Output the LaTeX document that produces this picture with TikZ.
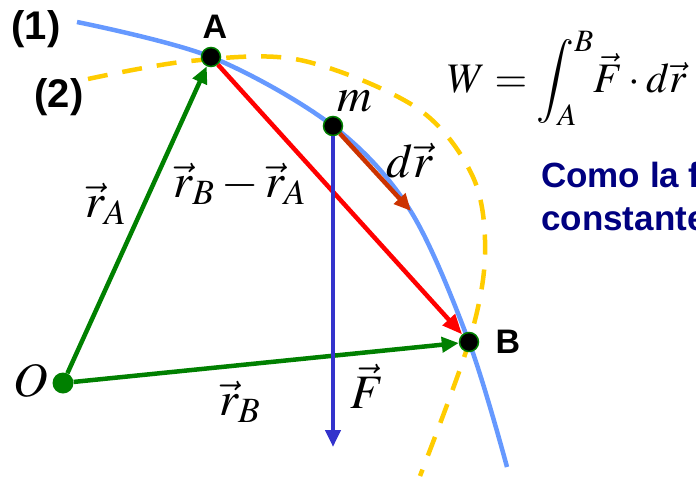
\documentclass[tikz,border=0pt]{standalone}
\usepackage{mathptmx}
\usepackage{fontspec}
\setsansfont{Liberation Sans}
\usepackage{xcolor}
\usetikzlibrary{arrows.meta,backgrounds}

\definecolor{vecgreen}{RGB}{0,128,0}
\definecolor{vecred}{RGB}{255,0,0}
\definecolor{drbrown}{RGB}{204,51,0}
\definecolor{forceblue}{RGB}{51,51,204}
\definecolor{pathblue}{RGB}{102,153,255}
\definecolor{pathgold}{RGB}{255,204,0}
\definecolor{textnavy}{RGB}{0,0,128}

\begin{document}
\begin{tikzpicture}[
  x=1pt, y=-1pt,
  dot/.style={circle, fill=black, draw=vecgreen, line width=1.5pt, minimum size=19pt, inner sep=0pt},
  origin/.style={circle, fill=vecgreen, minimum size=21pt, inner sep=0pt},
  vec/.style={line width=4.5pt, -{Triangle[length=17pt,width=15pt]}},
  curve/.style={line width=4.5pt, smooth, tension=0.55},
  ptlabel/.style={inner sep=0pt, font=\sffamily\bfseries\fontsize{34}{38}\selectfont},
  pathlabel/.style={inner sep=0pt, font=\sffamily\bfseries\fontsize{40}{44}\selectfont},
  mathlabel/.style={inner sep=0pt, font=\fontsize{48}{54}\selectfont},
  note/.style={inner sep=0pt, anchor=base west, text=textnavy, font=\sffamily\bfseries\fontsize{35}{40}\selectfont}
]
\useasboundingbox (0,0) rectangle (696,479);
\clip (0,0) rectangle (696,479);

% Points of the motion: origin O, start A, the particle m, end B
\node[origin] (O) at (63,383) {};
\node[dot] (A) at (211,57) {};
\node[dot] (m) at (333,126) {};
\node[dot] (B) at (469,342) {};
\coordinate (drtip) at (411,211);
\coordinate (Ftip) at (333,447);

% The two trajectories go under everything else
\begin{scope}[on background layer]
  \draw[curve, pathblue] plot coordinates {(77,22) (A.center) (m.center) (410,210) (B.center) (507,467)};
  \draw[curve, pathgold, dash pattern=on 20pt off 15pt]
    plot coordinates {(88,79) (190,61) (300,60) (417,108) (473,177) (485,255) (B.center) (420,476)};
\end{scope}

% Position vectors and displacement
\draw[vec, vecgreen] (O) -- (A);
\draw[vec, vecgreen] (O) -- (B);
\draw[vec, vecred, -{Triangle[length=20pt,width=16pt]}] (A) -- (B);
\draw[vec, drbrown] (m) -- (drtip);
\draw[vec, forceblue] (m) -- (Ftip);

% Labels
\node[pathlabel] (lbl1) at (36,29) {(1)};
\node[pathlabel] (lbl2) at (59,97) {(2)};
\node[ptlabel] (lblA) at (215,27) {A};
\node[ptlabel] (lblB) at (508,342) {B};
\node[mathlabel] (lblO) at (31,381) {$O$};
\node[mathlabel] (lblm) at (355,101) {$m$};
\node[mathlabel] (lblrA) at (106,204) {$\vec r_A$};
\node[mathlabel] (lbldiff) at (240,184) {$\vec r_B-\vec r_A$};
\node[mathlabel] (lbldr) at (410,161) {$d\vec r$};
\node[mathlabel] (lblrB) at (240,402) {$\vec r_B$};
\node[mathlabel] (lblF) at (367,386) {$\vec F$};

% Work integral and the (cut off) remark on the right
\node[mathlabel, font=\fontsize{42}{48}\selectfont, anchor=base west] (work) at (447,92)
  {$\displaystyle W=\int_A^B\! \vec F\cdot d\vec r$};
\node[note] (como) at (541,187) {Como la f};
\node[note] (const) at (541,230) {constante};
\end{tikzpicture}
\end{document}
